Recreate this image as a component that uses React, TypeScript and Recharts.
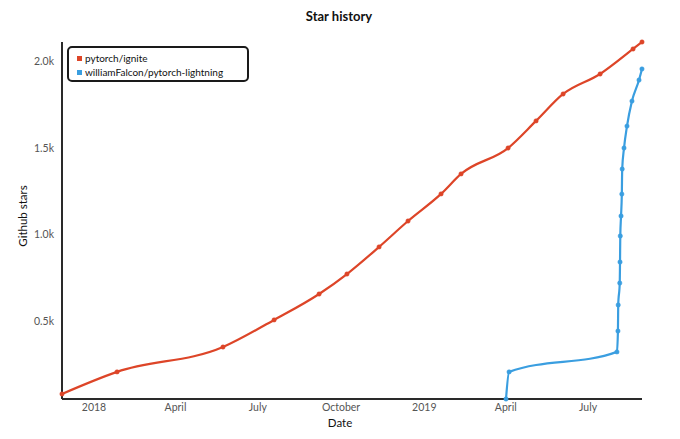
import React from 'react';
import { LineChart, Line, XAxis, YAxis, Legend } from 'recharts';

const igniteDates = [
  '2017-11-26T14:00Z', '2018-01-26T10:00Z', '2018-05-23T12:00Z', '2018-07-19T00:00Z',
  '2018-09-06T17:00Z', '2018-10-07T12:00Z', '2018-11-12T00:00Z', '2018-12-14T00:00Z',
  '2019-01-19T12:00Z', '2019-02-10T14:00Z', '2019-04-03T14:00Z', '2019-05-04T12:00Z',
  '2019-06-03T10:00Z', '2019-07-14T07:00Z', '2019-08-19T17:00Z', '2019-08-29T14:00Z',
];
const igniteStars = [84, 211, 354, 510, 659, 774, 930, 1079, 1235, 1350, 1499, 1655, 1810, 1925, 2069, 2109];

const lightningDates = [
  '2019-04-01T07:00Z', '2019-04-04T17:00Z', '2019-08-01T21:00Z', '2019-08-03T00:00Z',
  '2019-08-03T07:00Z', '2019-08-05T00:00Z', '2019-08-05T07:00Z', '2019-08-05T14:00Z',
  '2019-08-06T10:00Z', '2019-08-07T07:00Z', '2019-08-07T17:00Z', '2019-08-09T17:00Z',
  '2019-08-13T00:00Z', '2019-08-18T12:00Z', '2019-08-26T07:00Z', '2019-08-29T13:00Z',
];
const lightningStars = [55, 211, 326, 446, 596, 722, 843, 993, 1108, 1234, 1378, 1499, 1625, 1769, 1890, 1954];

const xTickDates = ['2018-01-01T00:00Z', '2018-04-01T00:00Z', '2018-07-01T00:00Z', '2018-10-01T00:00Z', '2019-01-01T00:00Z', '2019-04-01T00:00Z', '2019-07-01T00:00Z'];
const yTicks = [500, 1000, 1500, 2000];
const monthNames = ['January', 'February', 'March', 'April', 'May', 'June', 'July', 'August', 'September', 'October', 'November', 'December'];

const seriesNames = ['pytorch/ignite', 'williamFalcon/pytorch-lightning'];
const colors = ['#dd4528', '#3a9ee0'];

const igniteData = igniteDates.map((d, i) => ({ t: Date.parse(d), v: igniteStars[i] }));
const lightningData = lightningDates.map((d, i) => ({ t: Date.parse(d), v: lightningStars[i] }));
const xTicks = xTickDates.map((d) => Date.parse(d));

const FONT = 'Lato, "Noto Sans", sans-serif';

const fmtX = (t: number) => {
  const d = new Date(t);
  const m = d.getUTCMonth();
  return m === 0 ? String(d.getUTCFullYear()) : monthNames[m];
};
const fmtY = (v: number) => (v / 1000).toFixed(1) + 'k';

const LegendBox = () => (
  <div
    style={{
      border: '2px solid #1a1a1a',
      borderRadius: 5,
      background: '#fff',
      width: 178,
      height: 32,
      boxSizing: 'content-box',
      padding: '0px 0px',
      fontFamily: FONT,
      fontSize: 10,
      color: '#111',
    }}
  >
    {seriesNames.map((n, i) => (
      <div key={n} style={{ display: 'flex', alignItems: 'center', height: 14, marginLeft: 8, marginTop: i === 0 ? 3 : 0 }}>
        <span style={{ display: 'inline-block', width: 5, height: 5, background: colors[i], marginRight: 3 }} />
        <span>{n}</span>
      </div>
    ))}
  </div>
);

export default function App() {
  return (
    <div style={{ position: 'absolute', left: 0, top: 0, width: 680, height: 439, background: '#fff' }}>
      <LineChart width={680} height={439} margin={{ top: 42, right: 38, bottom: 10, left: 22 }}>
        <XAxis
          dataKey="t"
          type="number"
          scale="time"
          domain={['dataMin', 'dataMax']}
          ticks={xTicks}
          tickFormatter={fmtX}
          tickLine={false}
          tickSize={0}
          tickMargin={5}
          height={30}
          axisLine={{ stroke: '#2a2a2a', strokeWidth: 2 }}
          tick={{ fill: '#555', fontSize: 10.5, fontFamily: FONT }}
          allowDuplicatedCategory={false}
        />
        <YAxis
          dataKey="v"
          type="number"
          domain={['dataMin', 'dataMax']}
          ticks={yTicks}
          tickFormatter={fmtY}
          tickLine={false}
          tickSize={0}
          tickMargin={8}
          width={40}
          axisLine={{ stroke: '#2a2a2a', strokeWidth: 2 }}
          tick={{ fill: '#555', fontSize: 10.5, fontFamily: FONT }}
        />
        <Legend
          layout="horizontal"
          verticalAlign="middle"
          align="center"
          wrapperStyle={{ position: 'absolute', left: 67, top: 46, width: 'auto' }}
          content={() => <LegendBox />}
        />
        <Line
          data={igniteData}
          dataKey="v"
          name={seriesNames[0]}
          type="monotone"
          stroke={colors[0]}
          strokeWidth={2.2}
          dot={{ r: 2.2, fill: colors[0], stroke: colors[0], strokeWidth: 0.5 }}
          isAnimationActive={false}
        />
        <Line
          data={lightningData}
          dataKey="v"
          name={seriesNames[1]}
          type="monotone"
          stroke={colors[1]}
          strokeWidth={2.2}
          dot={{ r: 2.2, fill: colors[1], stroke: colors[1], strokeWidth: 0.5 }}
          isAnimationActive={false}
        />
      </LineChart>
      <svg width={680} height={439} style={{ position: 'absolute', left: 0, top: 0, pointerEvents: 'none' }}>
        <text x={339} y={21} textAnchor="middle" fontFamily={FONT} fontWeight="bold" fontSize={13} fill="#111">
          Star history
        </text>
        <text x={340} y={427} textAnchor="middle" fontFamily={FONT} fontSize={11.5} fill="#111">
          Date
        </text>
        <text
          x={0}
          y={0}
          transform="translate(27,216) rotate(-90)"
          textAnchor="middle"
          fontFamily={FONT}
          fontSize={11.5}
          fill="#111"
        >
          Github stars
        </text>
      </svg>
    </div>
  );
}
